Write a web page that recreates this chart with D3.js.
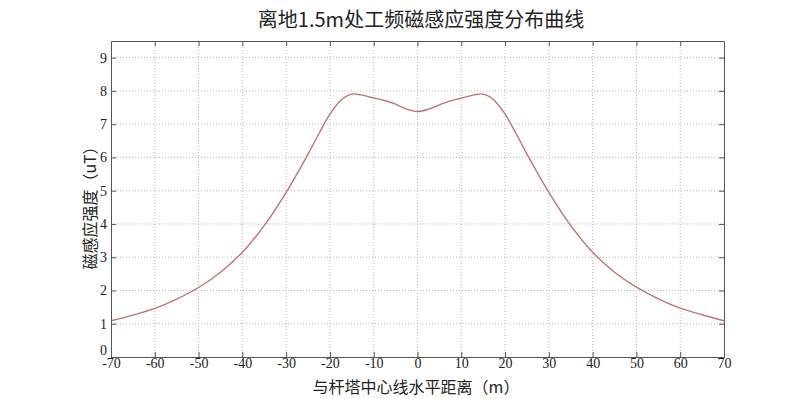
<!DOCTYPE html>
<html>
<head>
<meta charset="utf-8">
<script src="https://cdn.jsdelivr.net/npm/d3@7"></script>
<style>
  html, body { margin: 0; padding: 0; background: #fff; }
  svg { display: block; }
</style>
</head>
<body>
<svg id="chart" width="790" height="399"></svg>
<script>
// Horizontal distance from tower centre line (m)
const distance = [-70, -65, -60, -55, -50, -45, -40, -35, -30, -25, -22.5, -20, -17.5, -16, -14.5, -13, -10, -7.5, -5, -2.5, 0,
                  2.5, 5, 7.5, 10, 13, 14.5, 16, 17.5, 20, 22.5, 25, 30, 35, 40, 45, 50, 55, 60, 65, 70];
// Power-frequency magnetic induction at 1.5 m above ground (uT)
const induction = [1.09, 1.26, 1.46, 1.74, 2.09, 2.55, 3.15, 3.95, 4.95, 6.1, 6.72, 7.3, 7.72, 7.86, 7.91, 7.88, 7.79, 7.71, 7.6, 7.45, 7.38,
                   7.45, 7.58, 7.7, 7.78, 7.88, 7.91, 7.86, 7.72, 7.3, 6.72, 6.1, 4.95, 3.95, 3.15, 2.55, 2.1, 1.75, 1.47, 1.27, 1.09];
const xTicks = [-70, -60, -50, -40, -30, -20, -10, 0, 10, 20, 30, 40, 50, 60, 70];
const yTicks = [0, 1, 2, 3, 4, 5, 6, 7, 8, 9];

const titleText = "离地1.5m处工频磁感应强度分布曲线";
const xLabel = "与杆塔中心线水平距离（m）";
const yLabel = "磁感应强度（uT）";

const svg = d3.select("#chart");
const margin = { left: 111, right: 66, top: 41, bottom: 42 };
const W = 790, H = 399;

const x = d3.scaleLinear().domain([-70, 70]).range([margin.left, W - margin.right]);
const y = d3.scaleLinear().domain([0, 9.5]).range([H - margin.bottom, margin.top]);

const serif = "'Liberation Serif', 'DejaVu Serif', serif";
const cjk = "'Noto Sans CJK SC', sans-serif";

// dotted grid
const grid = svg.append("g");
grid.selectAll("line.v").data(xTicks.slice(1, -1)).join("line")
  .attr("x1", d => x(d)).attr("x2", d => x(d))
  .attr("y1", y(0)).attr("y2", y(9.5))
  .attr("stroke", "#b8b8b8").attr("stroke-width", 1).attr("stroke-dasharray", "1,2");
grid.selectAll("line.h").data(yTicks.slice(1)).join("line")
  .attr("x1", x(-70)).attr("x2", x(70))
  .attr("y1", d => y(d)).attr("y2", d => y(d))
  .attr("stroke", "#b8b8b8").attr("stroke-width", 1).attr("stroke-dasharray", "1,2");

// curve
const line = d3.line()
  .x((d, i) => x(distance[i]))
  .y(d => y(d))
  .curve(d3.curveCatmullRom.alpha(0.5));
svg.append("path")
  .datum(induction)
  .attr("d", line)
  .attr("fill", "none")
  .attr("stroke", "#c27270")
  .attr("stroke-width", 1.4);

// axes with inward ticks on all sides
const axisColor = "#555";
const plain = d => String(d);
function styleAxis(g) {
  g.select(".domain").attr("stroke", axisColor);
  g.selectAll(".tick line").attr("stroke", axisColor);
  g.selectAll(".tick text").attr("fill", "#222").attr("font-family", serif).attr("font-size", 14);
}
const xAxis = svg.append("g").attr("transform", `translate(0,${y(0)})`)
  .call(d3.axisBottom(x).tickValues(xTicks).tickSize(-5).tickSizeOuter(0).tickPadding(1).tickFormat(plain));
styleAxis(xAxis);
const xTop = svg.append("g").attr("transform", `translate(0,${y(9.5)})`)
  .call(d3.axisTop(x).tickValues(xTicks.slice(1, -1)).tickSize(-5).tickSizeOuter(0).tickFormat(""));
styleAxis(xTop);
const yAxis = svg.append("g").attr("transform", `translate(${x(-70)},0)`)
  .call(d3.axisLeft(y).tickValues(yTicks).tickSize(-5).tickSizeOuter(0).tickPadding(4).tickFormat(plain));
styleAxis(yAxis);
// lift the zero label clear of the first x label
yAxis.selectAll(".tick text").filter(d => d === 0).attr("dy", "-0.2em");
const yRight = svg.append("g").attr("transform", `translate(${x(70)},0)`)
  .call(d3.axisRight(y).tickValues(yTicks).tickSize(-5).tickSizeOuter(0).tickFormat(""));
styleAxis(yRight);

// title and axis labels
svg.append("text")
  .attr("x", 421).attr("y", 27)
  .attr("text-anchor", "middle")
  .attr("font-family", cjk).attr("font-size", 20).attr("fill", "#222")
  .text(titleText);
svg.append("text")
  .attr("x", 416).attr("y", 393)
  .attr("text-anchor", "middle")
  .attr("font-family", cjk).attr("font-size", 16).attr("fill", "#222")
  .text(xLabel);
svg.append("text")
  .attr("transform", "translate(96,204) rotate(-90)")
  .attr("text-anchor", "middle")
  .attr("font-family", cjk).attr("font-size", 16).attr("fill", "#222")
  .text(yLabel);
</script>
</body>
</html>
